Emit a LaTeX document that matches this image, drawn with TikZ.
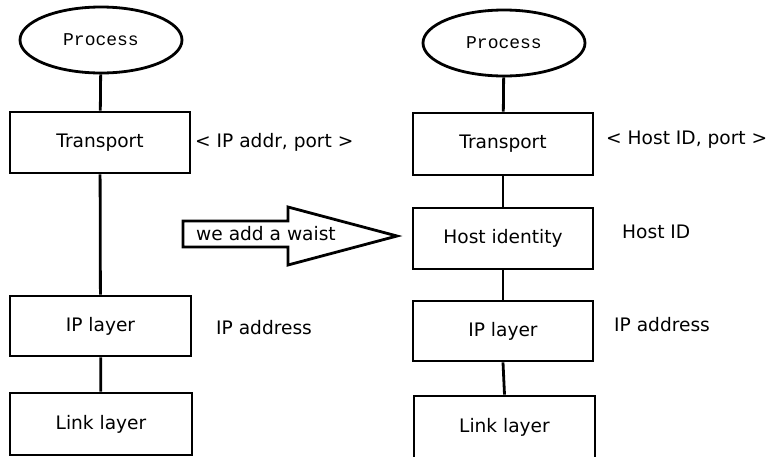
\documentclass[tikz,border=0pt]{standalone}
\usepackage{fontspec}
\setmainfont{DejaVu Sans}
\newfontfamily\procfont{Liberation Mono}
\usetikzlibrary{shapes.geometric}
\begin{document}
\begin{tikzpicture}[x=1pt,y=-1pt,
  every node/.style={inner sep=0pt, font=\fontsize{18.6}{22}\selectfont},
  layer/.style={draw, line width=2.8pt, rectangle, minimum width=180pt, minimum height=60pt},
  proc/.style={draw, line width=2.8pt, ellipse, minimum width=162pt, minimum height=66pt, font=\procfont\fontsize{18}{21}\selectfont},
  link/.style={line width=2.8pt},
  lbl/.style={anchor=west}
]
\useasboundingbox[fill=white] (0,0) rectangle (766,456);
\clip (0,0) rectangle (766,456);
% left stack
\node[proc] (LP) at (101,40) {Process};
\node[layer, minimum height=61pt] (LT) at (100,142.5) {Transport};
\node[layer, minimum width=181pt] (LI) at (100.5,326) {IP layer};
\node[layer, minimum width=182pt, minimum height=62pt] (LL) at (101,424) {Link layer};
\draw[link] (LP) -- (LT);
\draw[link] (LT) -- (LI);
\draw[link] (LI) -- (LL);
\node[lbl] (LTa) at (195,142) {< IP addr, port >};
\node[lbl] (LIa) at (216,328) {IP address};
% arrow
\draw[line width=2.8pt, line join=miter] (183,221) -- (288,221) -- (288,207) -- (397,236) -- (288,265) -- (288,247) -- (183,247) -- cycle;
\node[lbl] (W) at (196,234) {we add a waist};
% right stack
\node[proc] (RP) at (504,43) {Process};
\node[layer, minimum height=62pt] (RT) at (503,144) {Transport};
\node[layer, minimum height=61pt] (RH) at (503,238.5) {Host identity};
\node[layer] (RI) at (503,331) {IP layer};
\node[layer, minimum width=181pt, minimum height=62pt] (RL) at (504.5,427) {Link layer};
\draw[link] (RP) -- (RT);
\draw[link] (RT) -- (RH);
\draw[link] (RH) -- (RI);
\draw[link] (RI.south) -- (RL.north);
\node[lbl] (RTa) at (606,140) {< Host ID, port >};
\node[lbl] (RHa) at (622,232) {Host ID};
\node[lbl] (RIa) at (614,325) {IP address};
\end{tikzpicture}
\end{document}
